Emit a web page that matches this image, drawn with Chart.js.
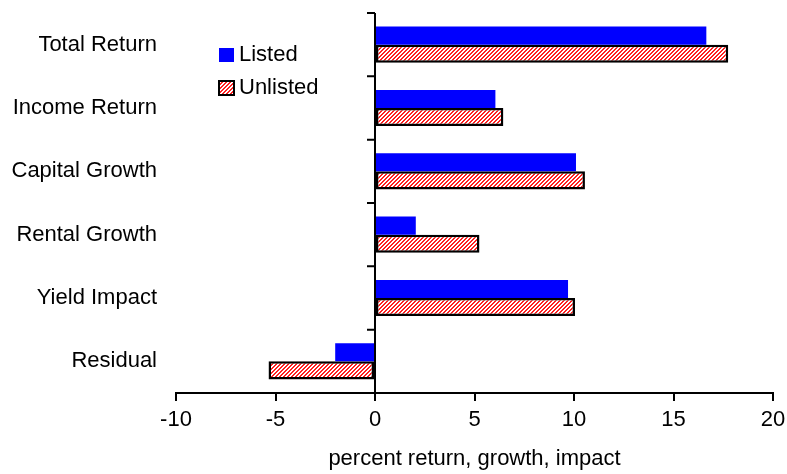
<!DOCTYPE html>
<html>
<head>
<meta charset="utf-8">
<script src="https://cdn.jsdelivr.net/npm/chart.js@4.4.1/dist/chart.umd.min.js"></script>
<style>
  html, body { margin: 0; padding: 0; background: #fff; }
  #wrap { width: 787px; height: 474px; }
</style>
</head>
<body>
<div id="wrap"><canvas id="c" width="787" height="474"></canvas></div>
<script>
const categories = ["Total Return", "Income Return", "Capital Growth", "Rental Growth", "Yield Impact", "Residual"];
const listed = [16.65, 6.05, 10.1, 2.05, 9.7, -2.0];
const unlisted = [17.75, 6.45, 10.55, 5.25, 10.05, -5.35];
const seriesNames = ["Listed", "Unlisted"];
const xTicks = [-10, -5, 0, 5, 10, 15, 20];
const xTitle = "percent return, growth, impact";

const FONT = "'Liberation Sans', Arial, sans-serif";

function makeHatch() {
  const t = document.createElement('canvas');
  t.width = 4; t.height = 4;
  const g = t.getContext('2d');
  g.fillStyle = '#ffffff';
  g.fillRect(0, 0, 4, 4);
  g.fillStyle = '#ff2020';
  for (let y = 0; y < 4; y++) {
    g.fillRect((3 - y) % 4, y, 1, 1);
    g.fillRect((4 - y) % 4, y, 1, 1);
  }
  return g.createPattern(t, 'repeat');
}
const ctx = document.getElementById('c').getContext('2d');
const hatch = makeHatch();

const axisPlugin = {
  id: 'axisPlugin',
  afterDatasetsDraw(chart) {
    const c = chart.ctx;
    const xs = chart.scales.x, ys = chart.scales.y;
    const x0 = xs.getPixelForValue(0);
    c.save();
    c.strokeStyle = '#000';
    c.lineWidth = 2;
    c.beginPath();
    c.moveTo(x0, ys.top);
    c.lineTo(x0, ys.bottom);
    for (let i = 0; i <= categories.length; i++) {
      const y = ys.getPixelForValue(i - 0.5);
      c.moveTo(x0 - 8, y);
      c.lineTo(x0, y);
    }
    c.stroke();
    c.restore();
  }
};

const legendPlugin = {
  id: 'legendPlugin',
  afterDraw(chart) {
    const c = chart.ctx;
    const a = chart.chartArea;
    const ds = chart.data.datasets;
    const left = a.left + 43;
    const rows = [a.top + 42, a.top + 75];
    c.save();
    c.font = '22px ' + FONT;
    c.textBaseline = 'middle';
    c.textAlign = 'left';
    ds.forEach((d, i) => {
      const cy = rows[i];
      c.fillStyle = d.backgroundColor;
      c.fillRect(left, cy - 7, 15, 14);
      if (i === 1) {
        c.strokeStyle = '#000';
        c.lineWidth = 2;
        c.strokeRect(left, cy - 7, 15, 14);
      }
      c.fillStyle = '#000';
      c.fillText(d.label, left + 20, cy);
    });
    c.restore();
  }
};

new Chart(ctx, {
  type: 'bar',
  data: {
    labels: categories,
    datasets: [
      { label: seriesNames[0], data: listed, backgroundColor: '#0000ff', borderWidth: 0 },
      { label: seriesNames[1], data: unlisted, backgroundColor: hatch, borderColor: '#000', borderWidth: 2.5, borderSkipped: false }
    ]
  },
  options: {
    indexAxis: 'y',
    responsive: false,
    animation: false,
    devicePixelRatio: 1,
    layout: { padding: { top: 13, right: 14, left: 0, bottom: 0 } },
    datasets: { bar: { categoryPercentage: 0.57, barPercentage: 1.0 } },
    plugins: { legend: { display: false }, tooltip: { enabled: false }, title: { display: false } },
    scales: {
      x: {
        type: 'linear',
        min: xTicks[0], max: xTicks[xTicks.length - 1],
        afterBuildTicks(s) { s.ticks = xTicks.map(v => ({ value: v })); },
        afterFit(s) { s.height = 81; s.paddingLeft = 0; s.paddingRight = 0; },
        border: { display: true, color: '#000', width: 2 },
        grid: { display: true, drawOnChartArea: false, drawTicks: true, tickLength: 8, tickColor: '#000', tickWidth: 2, color: '#000', lineWidth: 2 },
        ticks: { color: '#000', font: { family: FONT, size: 22 }, padding: 6, maxRotation: 0 },
        title: { display: true, text: xTitle, color: '#000', font: { family: FONT, size: 22 }, padding: { top: 6, bottom: 2 } }
      },
      y: {
        type: 'category',
        afterFit(s) { s.width = 176; s.paddingTop = 0; s.paddingBottom = 0; },
        border: { display: false },
        grid: { display: false, drawTicks: false },
        ticks: { color: '#000', font: { family: FONT, size: 22 }, padding: 19 }
      }
    }
  },
  plugins: [axisPlugin, legendPlugin]
});
</script>
</body>
</html>
